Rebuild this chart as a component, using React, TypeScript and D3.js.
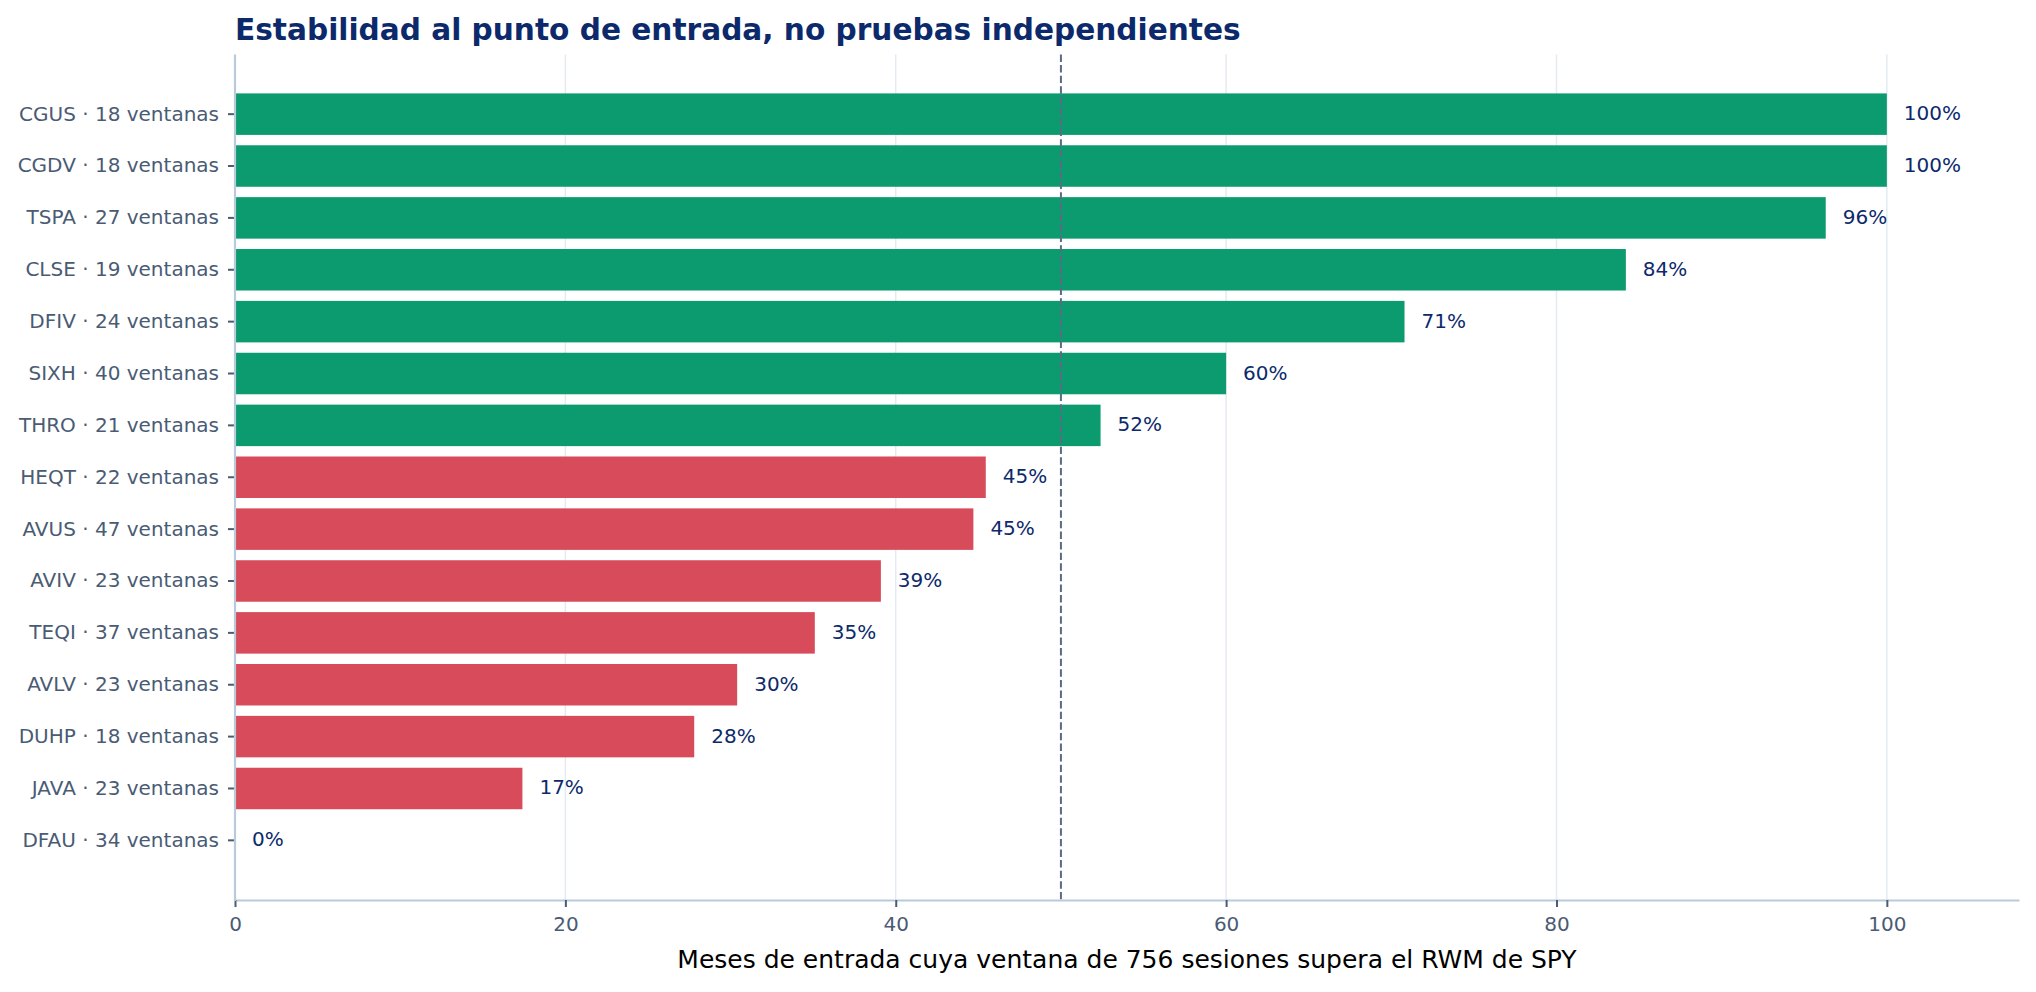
import React, { useRef, useEffect } from 'react';
import * as d3 from 'd3';

const WIDTH = 2036;
const HEIGHT = 992;

const GOOD_COLOR = '#0b9b6f';
const BAD_COLOR = '#d84b5b';
const AXIS_COLOR = '#4a5b74';
const SPINE_COLOR = '#b9cadb';
const GRID_COLOR = '#e4eaf2';
const NAVY = '#0c2a6b';
const FONT = '"DejaVu Sans", Verdana, sans-serif';

const tickers = ['CGUS', 'CGDV', 'TSPA', 'CLSE', 'DFIV', 'SIXH', 'THRO', 'HEQT', 'AVUS', 'AVIV', 'TEQI', 'AVLV', 'DUHP', 'JAVA', 'DFAU'];
const windows = [18, 18, 27, 19, 24, 40, 21, 22, 47, 23, 37, 23, 18, 23, 34];
const pctAbove = [100, 100, 96.3, 84.2, 70.8, 60, 52.4, 45.45, 44.7, 39.1, 35.1, 30.4, 27.8, 17.4, 0];
const xTicks = [0, 20, 40, 60, 80, 100];
const threshold = 50;

const TITLE = 'Estabilidad al punto de entrada, no pruebas independientes';
const X_LABEL = 'Meses de entrada cuya ventana de 756 sesiones supera el RWM de SPY';

export default function App() {
  const svgRef = useRef<SVGSVGElement>(null);

  useEffect(() => {
    document.body.style.margin = '0';
    document.body.style.overflow = 'hidden';
    const el = svgRef.current;
    if (!el) return;

    const svg = d3.select(el);
    svg.selectAll('*').remove();

    const left = 235, right = 2019, top = 54.5, bottom = 900;
    const labels = tickers.map((t, i) => `${t} · ${windows[i]} ventanas`);

    const x = d3.scaleLinear().domain([0, 108]).range([left, right]);
    const y = d3.scaleBand<string>().domain(labels).range([top, bottom])
      .paddingInner(0.2).paddingOuter(0.75);

    // grid
    svg.append('g')
      .selectAll('line').data(xTicks).join('line')
      .attr('x1', d => x(d)).attr('x2', d => x(d))
      .attr('y1', top).attr('y2', bottom)
      .attr('stroke', GRID_COLOR).attr('stroke-width', 1.5);

    // bars
    svg.append('g')
      .selectAll('rect').data(pctAbove).join('rect')
      .attr('x', x(0))
      .attr('y', (_, i) => y(labels[i])!)
      .attr('width', d => x(d) - x(0))
      .attr('height', y.bandwidth())
      .attr('fill', d => (d > threshold ? GOOD_COLOR : BAD_COLOR));

    // value labels
    const fmt = d3.format('.0f');
    svg.append('g')
      .selectAll('text').data(pctAbove).join('text')
      .attr('x', d => x(d) + 17)
      .attr('y', (_, i) => y(labels[i])! + y.bandwidth() / 2 - 1)
      .attr('dy', '0.35em')
      .attr('fill', NAVY).attr('font-size', 20).attr('font-family', FONT)
      .text(d => `${fmt(d)}%`);

    // threshold line
    svg.append('line')
      .attr('x1', x(threshold)).attr('x2', x(threshold))
      .attr('y1', top).attr('y2', bottom)
      .attr('stroke', '#5b6b84').attr('stroke-width', 2)
      .attr('stroke-dasharray', '7.4 3.2');

    // x axis
    svg.append('g')
      .attr('transform', `translate(0,${bottom})`)
      .call(d3.axisBottom(x).tickValues(xTicks).tickSize(7).tickPadding(10).tickSizeOuter(0))
      .call(g => g.select('.domain').attr('stroke', SPINE_COLOR).attr('stroke-width', 2.2))
      .call(g => g.selectAll('.tick line').attr('stroke', AXIS_COLOR).attr('stroke-width', 2))
      .call(g => g.selectAll('.tick text').attr('fill', AXIS_COLOR).attr('font-size', 20).attr('font-family', FONT));

    // y axis
    svg.append('g')
      .attr('transform', `translate(${left},0)`)
      .call(d3.axisLeft(y).tickSize(7).tickPadding(9).tickSizeOuter(0))
      .call(g => g.select('.domain').remove())
      .call(g => g.selectAll('.tick line').attr('stroke', AXIS_COLOR).attr('stroke-width', 2))
      .call(g => g.selectAll('.tick text').attr('fill', AXIS_COLOR).attr('font-size', 20).attr('font-family', FONT));

    svg.append('line')
      .attr('x1', left).attr('x2', left)
      .attr('y1', top).attr('y2', bottom + 1)
      .attr('stroke', SPINE_COLOR).attr('stroke-width', 2.2);

    // title
    svg.append('text')
      .attr('x', left).attr('y', 39.5)
      .attr('fill', NAVY).attr('font-size', 29.6).attr('font-weight', 'bold').attr('font-family', FONT)
      .text(TITLE);

    // x label
    svg.append('text')
      .attr('x', (left + right) / 2).attr('y', 968)
      .attr('text-anchor', 'middle')
      .attr('fill', '#000').attr('font-size', 25).attr('font-family', FONT)
      .text(X_LABEL);
  }, []);

  return (
    <svg ref={svgRef} width={WIDTH} height={HEIGHT} style={{ display: 'block', background: '#fff' }} />
  );
}
